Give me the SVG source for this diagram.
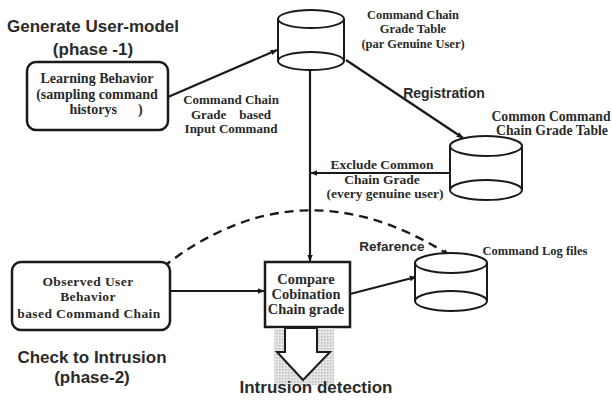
<svg xmlns="http://www.w3.org/2000/svg" width="612" height="403" viewBox="0 0 612 403">
  <defs>
    <marker id="arr" viewBox="0 0 10 10" refX="9" refY="5" markerWidth="7" markerHeight="7" orient="auto" markerUnits="userSpaceOnUse">
      <path d="M0,1 L10,5 L0,9 z" fill="#1a1a1a"/>
    </marker>
    <pattern id="dots" width="3" height="3" patternUnits="userSpaceOnUse">
      <rect width="3" height="3" fill="#e6e6e6"/>
      <rect width="1.5" height="1.5" fill="#bdbdbd"/>
    </pattern>
    <style>
      .box { fill: #ffffff; stroke: #1a1a1a; stroke-width: 2.5; }
      .cyl { fill: #ffffff; stroke: #1a1a1a; stroke-width: 2; }
      .line { fill: none; stroke: #1a1a1a; stroke-width: 2.2; }
      .dash { fill: none; stroke: #1a1a1a; stroke-width: 2.4; stroke-dasharray: 9 6; }
      .serif { font-family: "Liberation Serif", "Times New Roman", serif; font-weight: bold; fill: #2a2a2a; text-anchor: middle; white-space: pre; }
      .sans { font-family: "Liberation Sans", Arial, sans-serif; font-weight: bold; fill: #2a2a2a; text-anchor: middle; }
    </style>
  </defs>
  <rect width="612" height="403" fill="#ffffff"/>

  <!-- phase headings -->
  <g id="heading-phase1">
    <text class="sans" x="93" y="32" font-size="17">Generate User-model</text>
    <text class="sans" x="93" y="55" font-size="17">(phase -1)</text>
  </g>
  <g id="heading-phase2">
    <text class="sans" x="92" y="363" font-size="17">Check to Intrusion</text>
    <text class="sans" x="92" y="383" font-size="17">(phase-2)</text>
  </g>

  <!-- connectors -->
  <g id="connectors">
    <line class="line" x1="168" y1="97" x2="277" y2="50" marker-end="url(#arr)"/>
    <line class="line" x1="310" y1="70" x2="310" y2="261" marker-end="url(#arr)"/>
    <line class="line" x1="346" y1="60" x2="463" y2="138" marker-end="url(#arr)"/>
    <line class="line" x1="450" y1="173" x2="311" y2="173" marker-end="url(#arr)"/>
    <line class="line" x1="170" y1="291" x2="264" y2="291" marker-end="url(#arr)"/>
    <line class="line" x1="350" y1="294" x2="416" y2="277" marker-end="url(#arr)"/>
    <path class="dash" d="M163,267 Q300,160 449,255" marker-end="url(#arr)"/>
    <text class="serif" x="231" y="104" font-size="13" xml:space="preserve">Command Chain</text>
    <text class="serif" x="231" y="119" font-size="13" xml:space="preserve">Grade    based</text>
    <text class="serif" x="231" y="133" font-size="13" xml:space="preserve">Input Command</text>
    <text class="sans" x="444" y="98" font-size="14">Registration</text>
    <text class="serif" x="382" y="169" font-size="13.5">Exclude Common</text>
    <text class="serif" x="382" y="184" font-size="13.5">Chain Grade</text>
    <text class="serif" x="385" y="198" font-size="13.5">(every genuine user)</text>
    <text class="sans" x="392" y="251" font-size="13.5">Refarence</text>
  </g>

  <!-- learning behaviour box -->
  <g id="learning-behavior">
    <rect class="box" x="27" y="62" width="141" height="68" rx="9"/>
    <text class="serif" x="97" y="83" font-size="14">Learning Behavior</text>
    <text class="serif" x="97" y="99" font-size="14">(sampling command</text>
    <text class="serif" x="106" y="114" font-size="14" xml:space="preserve">historys      )</text>
  </g>

  <!-- per-user grade table -->
  <g id="grade-table">
    <path class="cyl" d="M278,19 V61 A33,9 0 0 0 344,61 V19"/>
    <ellipse class="cyl" cx="311" cy="19" rx="33" ry="9"/>
    <path class="cyl" d="M278,61 A33,9 0 0 1 344,61" fill="none"/>
    <text class="serif" x="413" y="19" font-size="12.5">Command Chain</text>
    <text class="serif" x="413" y="33" font-size="12.5">Grade Table</text>
    <text class="serif" x="413" y="48" font-size="12.5">(par Genuine User)</text>
  </g>

  <!-- common grade table -->
  <g id="common-table">
    <path class="cyl" d="M450,146 V190 A36,10 0 0 0 522,190 V146"/>
    <ellipse class="cyl" cx="486" cy="146" rx="36" ry="10"/>
    <path class="cyl" d="M450,190 A36,10 0 0 1 522,190" fill="none"/>
    <text class="serif" x="551" y="121" font-size="13.7">Common Command</text>
    <text class="serif" x="552" y="135" font-size="13.7">Chain Grade Table</text>
  </g>

  <!-- command log store -->
  <g id="command-log">
    <path class="cyl" d="M415,263 V301 A36,10 0 0 0 487,301 V263"/>
    <ellipse class="cyl" cx="451" cy="263" rx="36" ry="10"/>
    <path class="cyl" d="M415,301 A36,10 0 0 1 487,301" fill="none"/>
    <text class="serif" x="535" y="255" font-size="12.5">Command Log files</text>
  </g>

  <!-- observed behaviour box -->
  <g id="observed-behavior">
    <rect class="box" x="12" y="262" width="158" height="68" rx="9"/>
    <text class="serif" x="88" y="286" font-size="13.5" letter-spacing="0.4">Observed User</text>
    <text class="serif" x="88" y="301" font-size="13.5" letter-spacing="0.4">Behavior</text>
    <text class="serif" x="89" y="318" font-size="13.5" letter-spacing="0.4">based Command Chain</text>
  </g>

  <!-- comparison step -->
  <g id="compare">
    <rect class="box" x="265" y="262" width="85" height="65"/>
    <text class="serif" x="306" y="284" font-size="14.4">Compare</text>
    <text class="serif" x="306" y="299" font-size="14.4">Cobination</text>
    <text class="serif" x="306" y="314" font-size="14.4">Chain grade</text>
  </g>

  <!-- result arrow -->
  <g id="intrusion-detection">
    <rect x="274" y="328" width="60" height="57" fill="url(#dots)"/>
    <path d="M285,328 H317 V352 H330 L303,380 L277,352 H285 Z" fill="#ffffff" stroke="#1a1a1a" stroke-width="2"/>
    <text class="sans" x="316" y="393" font-size="17">Intrusion detection</text>
  </g>
</svg>
